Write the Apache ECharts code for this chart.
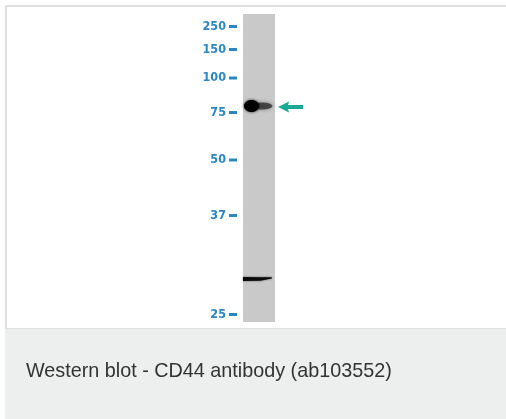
<!DOCTYPE html>
<html>
<head>
<meta charset="utf-8">
<style>
  html, body { margin: 0; padding: 0; background: #ffffff; }
  #chart { width: 506px; height: 419px; }
</style>
<script src="https://cdn.jsdelivr.net/npm/echarts@6/dist/echarts.min.js"></script>
</head>
<body>
<div id="chart"></div>
<script>
// Molecular weight markers (kDa) and their migration distance from the top of the lane
var markerKDa = [250, 150, 100, 75, 50, 37, 25];
var markerMigration = [12.5, 35.5, 64, 98.5, 146, 201.5, 300.5];
// Detected bands (migration distance from the top of the lane)
var bandNames = ['CD44', 'lower band'];
var bandMigration = [92, 265];
// Lane length (migration units)
var laneLength = 308;
var captionText = 'Western blot - CD44 antibody (ab103552)';

var markerColor = '#2a87c4';
var arrowColor = '#1aa996';

// band shape styles (not data)
var bandStyles = [
  { core: { x0: 0.0, x1: 0.47, h: 12 }, tail: { x0: 0.25, x1: 0.92, h: 7, alpha: 0.65 } },
  { core: { x0: 0.0, x1: 0.9, h: 3.6 }, tail: null }
];

var chart = echarts.init(document.getElementById('chart'), null, { renderer: 'canvas' });

function bandRender(params, api) {
  var i = params.dataIndex;
  var y = api.coord([0, api.value(1)])[1];
  var xL = api.coord([0, 0])[0];
  var xR = api.coord([1, 0])[0];
  var w = xR - xL;
  var st = bandStyles[i];
  var children = [];
  if (st.tail) {
    var t = st.tail;
    children.push({
      type: 'ellipse',
      shape: { cx: xL + w * (t.x0 + t.x1) / 2, cy: y, rx: w * (t.x1 - t.x0) / 2, ry: t.h / 2 },
      style: { fill: 'rgba(20,20,20,' + t.alpha + ')', shadowBlur: 4, shadowColor: 'rgba(0,0,0,0.5)' }
    });
  }
  var c = st.core;
  if (i === 0) {
    children.push({
      type: 'ellipse',
      shape: { cx: xL + w * (c.x0 + c.x1) / 2 + 1, cy: y, rx: w * (c.x1 - c.x0) / 2, ry: c.h / 2 },
      style: { fill: '#030303', shadowBlur: 3, shadowColor: 'rgba(0,0,0,0.8)' }
    });
  } else {
    var x0 = xL + w * c.x0, x1 = xL + w * c.x1;
    children.push({
      type: 'polygon',
      shape: { points: [[x0, y - c.h / 2 - 0.3], [x0 + (x1 - x0) * 0.6, y - c.h / 2], [x1, y - 1.8], [x1, y - 0.4], [x0 + (x1 - x0) * 0.6, y + c.h / 2], [x0, y + c.h / 2 + 0.3]] },
      style: { fill: '#0a0a0a', shadowBlur: 2, shadowColor: 'rgba(0,0,0,0.6)' }
    });
  }
  return { type: 'group', children: children };
}

function arrowRender(params, api) {
  var p = api.coord([1, api.value(1)]);
  var tipX = p[0] + 3, y = p[1] + 1;
  var headLen = 11, headHalf = 5.5, shaftHalf = 1.9, tailX = tipX + 25;
  return {
    type: 'polygon',
    shape: { points: [
      [tipX, y], [tipX + headLen, y - headHalf], [tipX + headLen - 1, y - shaftHalf],
      [tailX, y - shaftHalf], [tailX, y + shaftHalf], [tipX + headLen - 1, y + shaftHalf],
      [tipX + headLen, y + headHalf]
    ] },
    style: { fill: arrowColor }
  };
}

var option = {
  animation: false,
  backgroundColor: '#ffffff',
  graphic: [
    { type: 'rect', z: -10, shape: { x: 5, y: 5, width: 501, height: 324 }, style: { fill: '#ffffff' } },
    { type: 'rect', z: -9, shape: { x: 5, y: 5, width: 501, height: 2 }, style: { fill: '#e0e0e0' } },
    { type: 'rect', z: -9, shape: { x: 5, y: 5, width: 2, height: 324 }, style: { fill: '#e0e0e0' } },
    { type: 'rect', z: -9, shape: { x: 5, y: 328, width: 501, height: 91 }, style: { fill: '#edeeee' } },
    { type: 'rect', z: -8, shape: { x: 5, y: 328, width: 501, height: 1 }, style: { fill: '#dedede' } },
    { type: 'text', z: 10, x: 26, y: 372, style: { text: captionText, fill: '#333333', font: '19.8px "Liberation Sans", Arial, sans-serif', verticalAlign: 'middle', align: 'left' } }
  ],
  grid: {
    left: 243, top: 14, width: 32, height: 308,
    show: true, backgroundColor: '#c9c9c9', borderWidth: 0
  },
  xAxis: { type: 'value', min: 0, max: 1, show: false },
  yAxis: {
    type: 'value', inverse: true, min: 0, max: laneLength,
    axisLine: { show: false },
    splitLine: { show: false },
    axisTick: { show: false },
    axisLabel: {
      show: true, margin: 6, customValues: markerMigration,
      formatter: function (v) {
        var idx = markerMigration.indexOf(v);
        return idx >= 0 ? '{t|' + markerKDa[idx] + '}{d|}' : '';
      },
      rich: {
        t: {
          color: markerColor, fontSize: 12.5, fontWeight: 'bold',
          fontFamily: '"Liberation Sans Narrow", "DejaVu Sans Condensed", Arial, sans-serif',
          padding: [0, 3, 0, 0], verticalAlign: 'middle', lineHeight: 14
        },
        d: { width: 8, height: 3, backgroundColor: markerColor, verticalAlign: 'middle', padding: [0, 0, 0, 0] }
      }
    }
  },
  series: [
    {
      type: 'custom', name: 'bands', renderItem: bandRender,
      data: bandMigration.map(function (m, i) { return [0, m, bandNames[i]]; }),
      encode: { x: 0, y: 1 }
    },
    {
      type: 'custom', name: 'arrow', renderItem: arrowRender,
      data: [[1, bandMigration[0]]],
      encode: { x: 0, y: 1 }, clip: false
    }
  ]
};
chart.setOption(option);
</script>
</body>
</html>
